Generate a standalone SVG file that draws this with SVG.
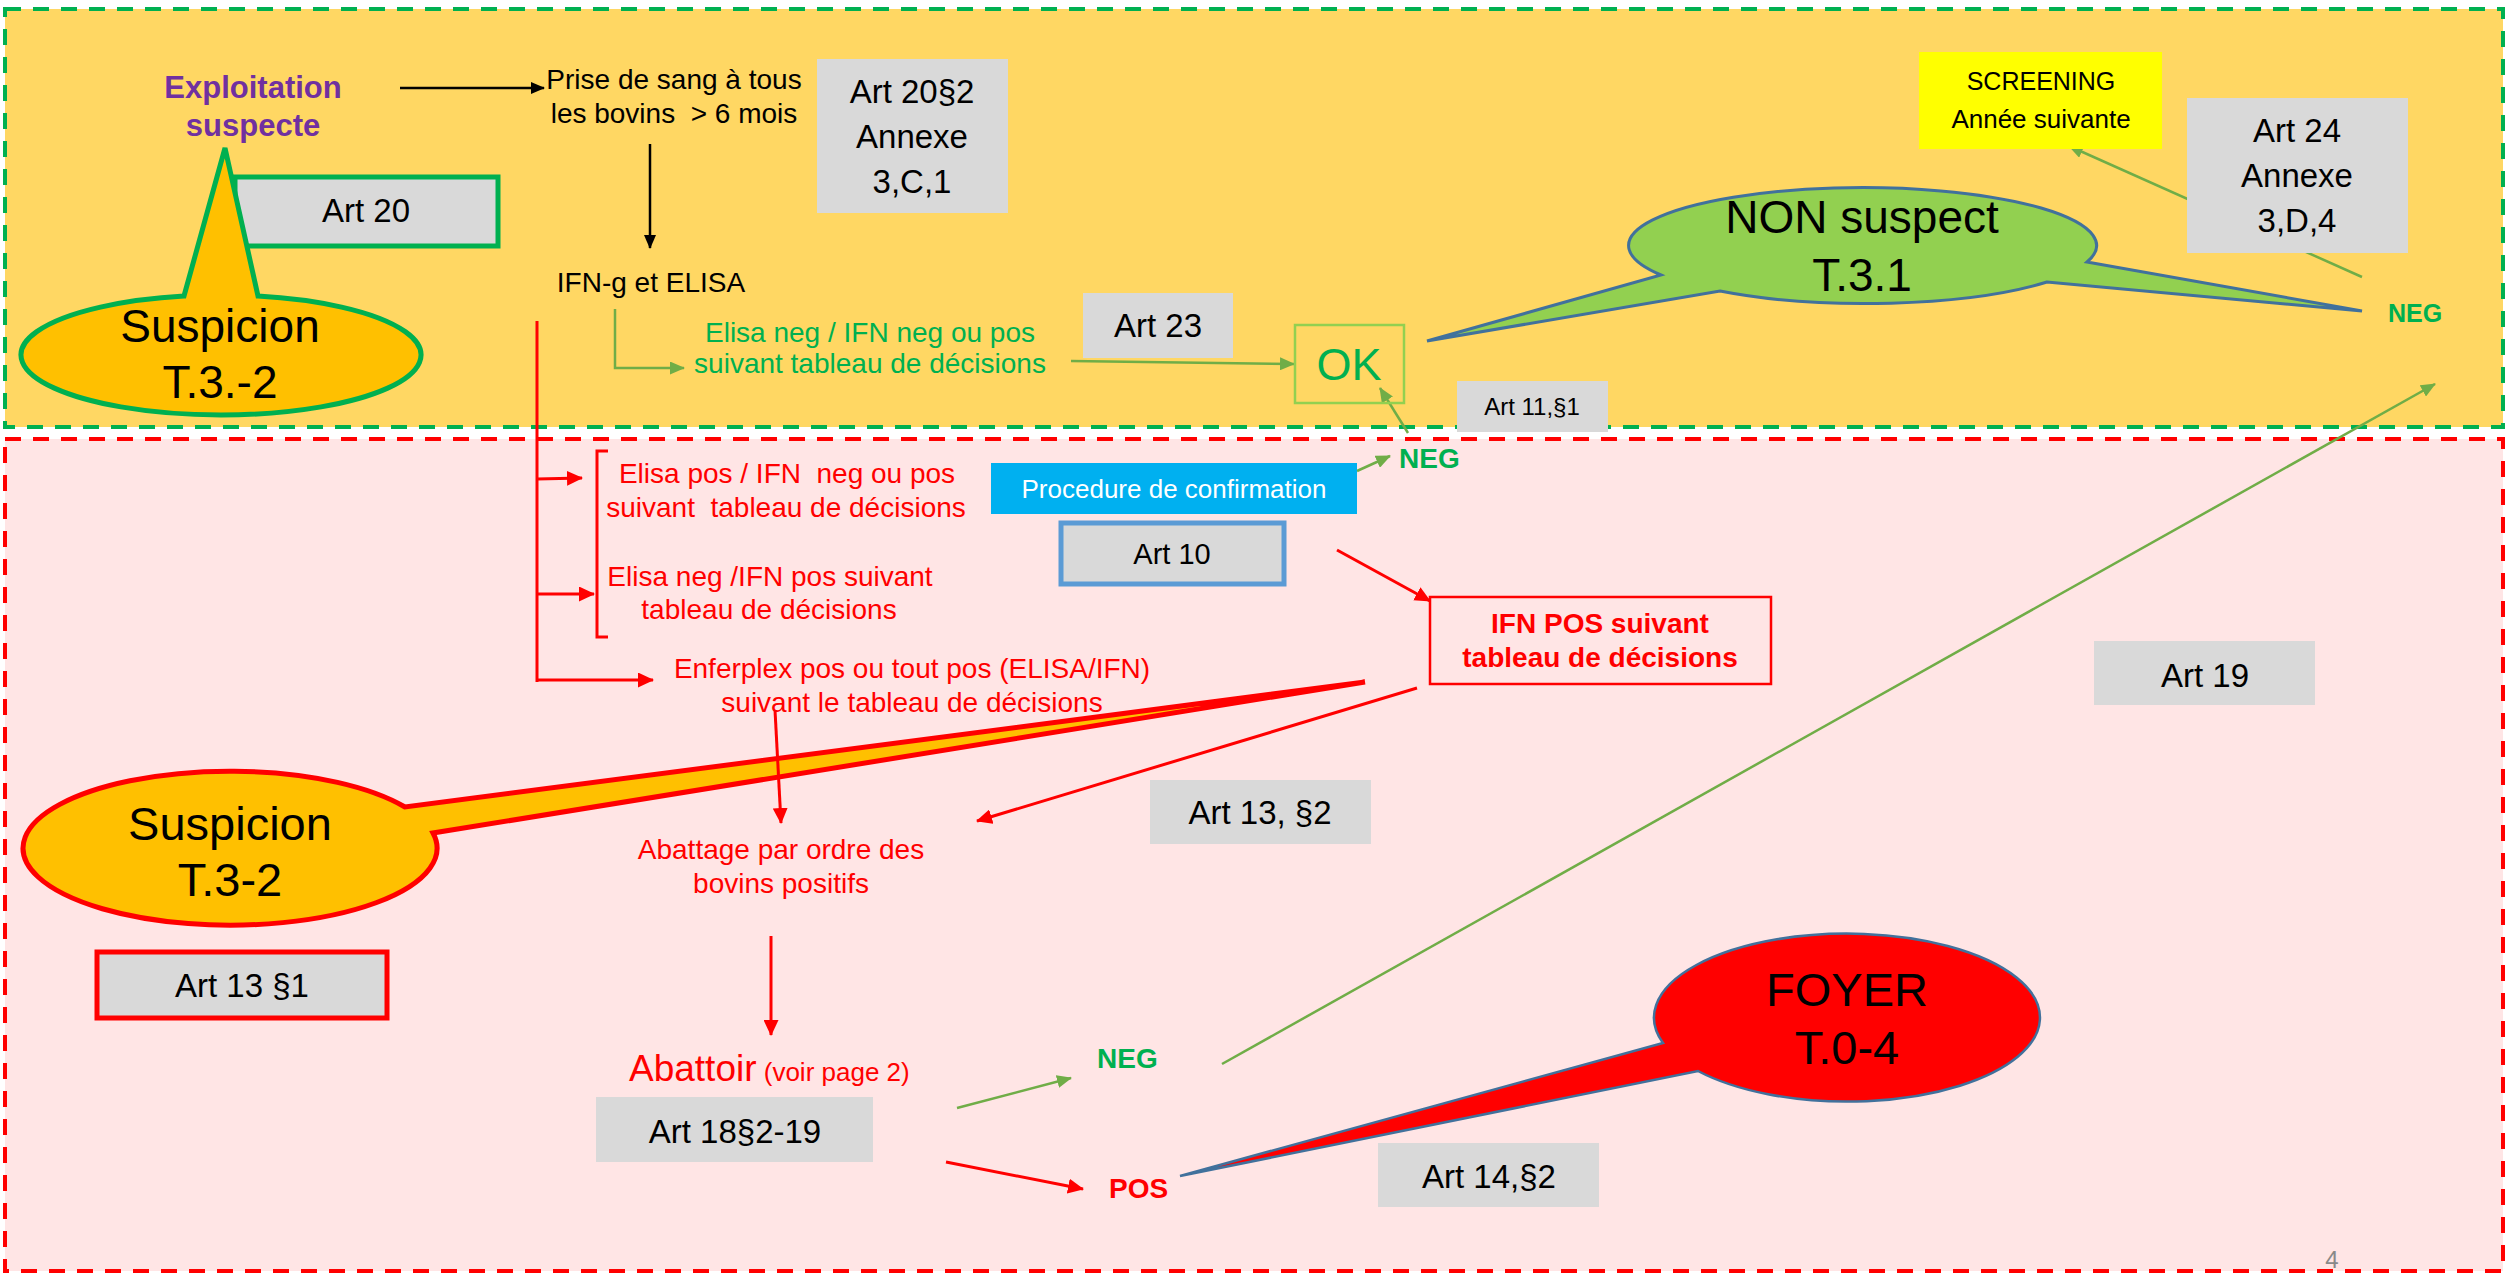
<svg xmlns="http://www.w3.org/2000/svg" width="2509" height="1276" viewBox="0 0 2509 1276">
<style>
text{font-family:"Liberation Sans",Arial,sans-serif}
.c{text-anchor:middle}
.pre{white-space:pre}
.art{font-size:33px;fill:#000}
.box{fill:#D9D9D9}
.red{fill:#FF0000;font-size:28px}
.grn{fill:#00B050}
.b{font-weight:bold}
.lr{stroke:#FF0000;stroke-width:3;fill:none}
.lg{stroke:#70AD47;stroke-width:2.5;fill:none}
.lk{stroke:#000;stroke-width:2.5;fill:none}
</style>
<defs>
<marker id="ak" markerUnits="userSpaceOnUse" markerWidth="14" markerHeight="12" refX="13" refY="6" orient="auto"><path d="M0,0 L14,6 L0,12 z" fill="#000"/></marker>
<marker id="ag" markerUnits="userSpaceOnUse" markerWidth="15" markerHeight="13" refX="14" refY="6.5" orient="auto"><path d="M0,0 L15,6.5 L0,13 z" fill="#70AD47"/></marker>
<marker id="ar" markerUnits="userSpaceOnUse" markerWidth="16" markerHeight="15" refX="15" refY="7.5" orient="auto"><path d="M0,0 L16,7.5 L0,15 z" fill="#FF0000"/></marker>
</defs>
<rect x="0" y="0" width="2509" height="1276" fill="#FFFFFF"/>
<g id="zone-top"><rect x="5" y="9" width="2498" height="418" fill="#FFD763" stroke="#00B050" stroke-width="4" stroke-dasharray="16 12"/></g>
<g id="zone-bottom"><rect x="5" y="439" width="2498" height="832" fill="#FFE5E5" stroke="#FF0000" stroke-width="4" stroke-dasharray="16 12"/></g>

<g id="art20"><rect x="235" y="177" width="263" height="69" class="box" stroke="#00B050" stroke-width="5"/><text x="366" y="222" class="c art">Art 20</text></g>

<g id="callout-suspicion-top"><path d="M184 296 A200 60 0 1 0 258 296 L225 148 Z" fill="#FFC000" stroke="#00B050" stroke-width="5" stroke-linejoin="miter"/>
<text x="220" y="342" class="c" font-size="46">Suspicion</text><text x="220" y="398" class="c" font-size="46">T.3.-2</text></g>

<g id="callout-suspicion-bottom"><path d="M405 807 A207 77 0 1 0 433 833 L1365 682 Z" fill="#FFC000" stroke="#FF0000" stroke-width="5"/>
<text x="230" y="840" class="c" font-size="47">Suspicion</text><text x="230" y="896" class="c" font-size="47">T.3-2</text></g>

<g id="callout-non-suspect"><path d="M2087 262 L2362 311 L2047 282 A234 58 0 0 1 1720 291 L1427 341 L1661 275 A234 58 0 1 1 2087 262 Z" fill="#92D050" stroke="#41719C" stroke-width="3"/>
<text x="1862" y="233" class="c" font-size="46">NON suspect</text><text x="1862" y="291" class="c" font-size="46">T.3.1</text></g>

<g id="callout-foyer"><path d="M1698 1071 A193 84 0 1 0 1663 1043 L1180 1176 Z" fill="#FF0000" stroke="#41719C" stroke-width="2.5"/>
<text x="1847" y="1006" class="c" font-size="47">FOYER</text><text x="1847" y="1064" class="c" font-size="47">T.0-4</text></g>

<g id="connectors">
<line x1="400" y1="88" x2="544" y2="88" class="lk" marker-end="url(#ak)"/>
<line x1="650" y1="144" x2="650" y2="248" class="lk" marker-end="url(#ak)"/>
<polyline points="615,309 615,368 684,368" class="lg" marker-end="url(#ag)"/>
<line x1="1071" y1="361" x2="1294" y2="364" class="lg" stroke-width="3" marker-end="url(#ag)"/>
<line x1="1408" y1="433" x2="1380" y2="388" class="lg" marker-end="url(#ag)"/>
<line x1="1357" y1="471" x2="1390" y2="456" class="lg" marker-end="url(#ag)"/>
<line x1="2362" y1="277" x2="2069" y2="146" class="lg" marker-end="url(#ag)"/>
<line x1="1222" y1="1064" x2="2435" y2="384" class="lg" stroke-width="2" marker-end="url(#ag)"/>
<line x1="957" y1="1108" x2="1071" y2="1078" class="lg" marker-end="url(#ag)"/>
<line x1="537" y1="321" x2="537" y2="682" class="lr"/>
<line x1="537" y1="479" x2="582" y2="478" class="lr" marker-end="url(#ar)"/>
<line x1="537" y1="594" x2="594" y2="594" class="lr" marker-end="url(#ar)"/>
<line x1="537" y1="680" x2="653" y2="680" class="lr" marker-end="url(#ar)"/>
<path d="M608 451 L597 451 L597 637 L608 637" class="lr" stroke-width="1.5"/>
<line x1="775" y1="710" x2="781" y2="823" class="lr" marker-end="url(#ar)"/>
<line x1="1337" y1="550" x2="1430" y2="601" class="lr" marker-end="url(#ar)"/>
<line x1="1417" y1="688" x2="977" y2="821" class="lr" marker-end="url(#ar)"/>
<line x1="771" y1="936" x2="771" y2="1035" class="lr" marker-end="url(#ar)"/>
<line x1="946" y1="1162" x2="1083" y2="1189" class="lr" stroke-width="3.5" marker-end="url(#ar)"/>
</g>

<g id="exploitation"><text x="253" y="98" class="c b" font-size="31" fill="#7030A0">Exploitation</text><text x="253" y="136" class="c b" font-size="31" fill="#7030A0">suspecte</text></g>
<g id="prise"><text x="674" y="89" class="c" font-size="28">Prise de sang à tous</text><text x="674" y="123" class="c pre" font-size="28">les bovins  &gt; 6 mois</text></g>
<g id="art20-2"><rect x="817" y="59" width="191" height="154" class="box"/><text x="912" y="103" class="c art">Art 20§2</text><text x="912" y="148" class="c art">Annexe</text><text x="912" y="193" class="c art">3,C,1</text></g>
<g id="ifn-elisa"><text x="651" y="292" class="c" font-size="28">IFN-g et ELISA</text></g>
<g id="elisa-neg"><text x="870" y="342" class="c grn" font-size="28">Elisa neg / IFN neg ou pos</text><text x="870" y="373" class="c grn" font-size="28">suivant tableau de décisions</text></g>
<g id="art23"><rect x="1083" y="293" width="150" height="65" class="box"/><text x="1158" y="337" class="c art">Art 23</text></g>
<g id="ok"><rect x="1295" y="325" width="109" height="78" fill="none" stroke="#92D050" stroke-width="2.5"/><text x="1349" y="380" class="c grn" font-size="45">OK</text></g>
<g id="art11"><rect x="1457" y="381" width="151" height="51" class="box"/><text x="1532" y="415" class="c" font-size="24">Art 11,§1</text></g>
<g id="screening"><rect x="1919" y="52" width="243" height="97" fill="#FFFF00"/><text x="2041" y="90" class="c" font-size="25">SCREENING</text><text x="2041" y="128" class="c" font-size="26">Année suivante</text></g>
<g id="art24"><rect x="2187" y="98" width="221" height="155" class="box"/><text x="2297" y="142" class="c art">Art 24</text><text x="2297" y="187" class="c art">Annexe</text><text x="2297" y="232" class="c art">3,D,4</text></g>
<g id="neg-top"><text x="2415" y="322" class="c grn b" font-size="25">NEG</text></g>

<g id="elisa-pos"><text x="787" y="483" class="c red pre">Elisa pos / IFN  neg ou pos</text><text x="786" y="517" class="c red pre">suivant  tableau de décisions</text></g>
<g id="elisa-neg-ifn-pos"><text x="770" y="586" class="c red">Elisa neg /IFN pos suivant</text><text x="769" y="619" class="c red">tableau de décisions</text></g>
<g id="enferplex"><text x="912" y="678" class="c red">Enferplex pos ou tout pos (ELISA/IFN)</text><text x="912" y="712" class="c red">suivant le tableau de décisions</text></g>
<g id="procedure"><rect x="991" y="463" width="366" height="51" fill="#00B0F0"/><text x="1174" y="498" class="c" font-size="26" fill="#FFFFFF">Procedure de confirmation</text></g>
<g id="neg-mid"><text x="1399" y="468" class="grn b" font-size="28">NEG</text></g>
<g id="art10"><rect x="1061" y="523" width="223" height="61" class="box" stroke="#5B9BD5" stroke-width="5"/><text x="1172" y="564" class="c" font-size="29">Art 10</text></g>
<g id="ifn-pos"><rect x="1430" y="597" width="341" height="87" fill="none" stroke="#FF0000" stroke-width="2.5"/><text x="1600" y="633" class="c red b">IFN POS suivant</text><text x="1600" y="667" class="c red b">tableau de décisions</text></g>
<g id="art13-2"><rect x="1150" y="780" width="221" height="64" class="box"/><text x="1260" y="824" class="c art">Art 13, §2</text></g>
<g id="art19"><rect x="2094" y="641" width="221" height="64" class="box"/><text x="2205" y="687" class="c art">Art 19</text></g>
<g id="abattage"><text x="781" y="859" class="c red">Abattage par ordre des</text><text x="781" y="893" class="c red">bovins positifs</text></g>
<g id="art13-1"><rect x="97" y="952" width="290" height="66" class="box" stroke="#FF0000" stroke-width="5"/><text x="242" y="997" class="c art">Art 13 §1</text></g>
<g id="abattoir"><text x="629" y="1081" fill="#FF0000" font-size="37">Abattoir<tspan font-size="26"> (voir page 2)</tspan></text></g>
<g id="art18"><rect x="596" y="1097" width="277" height="65" class="box"/><text x="735" y="1143" class="c art">Art 18§2-19</text></g>
<g id="neg-bottom"><text x="1097" y="1068" class="grn b" font-size="28">NEG</text></g>
<g id="pos"><text x="1109" y="1198" class="b" font-size="28" fill="#FF0000">POS</text></g>
<g id="art14"><rect x="1378" y="1143" width="221" height="64" class="box"/><text x="1489" y="1188" class="c art">Art 14,§2</text></g>
<g id="page-number"><text x="2332" y="1268" class="c" font-size="24" fill="#898989">4</text></g>
</svg>
